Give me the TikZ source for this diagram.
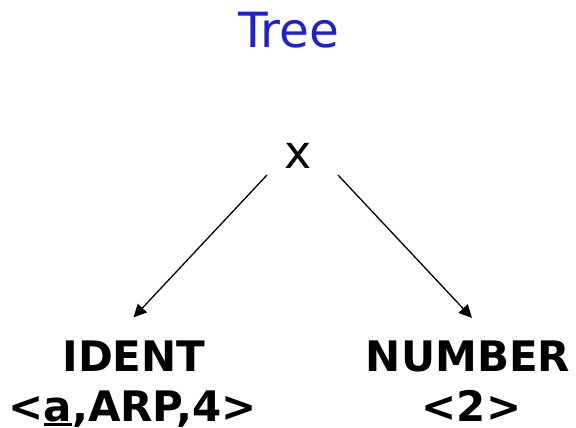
\documentclass[tikz,border=0pt]{standalone}
\usepackage{fontspec}
\setmainfont{DejaVu Sans}
\usetikzlibrary{arrows.meta}
\definecolor{titleblue}{RGB}{32,32,208}
\newlength\ulwidth
\newcommand\ulin[1]{\settowidth\ulwidth{#1}\rlap{\rule[-4.6pt]{\ulwidth}{2.6pt}}#1}
\tikzset{
  lbl/.style={anchor=base, inner sep=0pt, font=\fontsize{42}{42}\selectfont\bfseries},
  arr/.style={-{Triangle[length=13pt,width=12.5pt]}, line width=1.3pt, black}
}
\begin{document}
\begin{tikzpicture}[x=1pt,y=-1pt]
\useasboundingbox (0,0) rectangle (576,428);
\node[anchor=base, inner sep=0pt, text=titleblue, font=\fontsize{48.5}{48.5}\selectfont] (title) at (288.8,47.7) {Tree};
\node[anchor=base, inner sep=0pt, font=\fontsize{46}{46}\selectfont] (x) at (298.5,168.3) {x};
\node[lbl] (identA) at (134,371.7) {IDENT};
\node[lbl] (identB) at (132.5,421) {<\ulin{a},ARP,4>};
\node[lbl] (numA) at (468,371.7) {NUMBER};
\node[lbl] (numB) at (471.5,421) {<2>};
\coordinate (xl) at (267,175);
\coordinate (xr) at (338,175);
\coordinate (il) at (133.5,317.5);
\coordinate (nr) at (472,318);
\draw[arr] (xl) -- (il);
\draw[arr] (xr) -- (nr);
\end{tikzpicture}
\end{document}
